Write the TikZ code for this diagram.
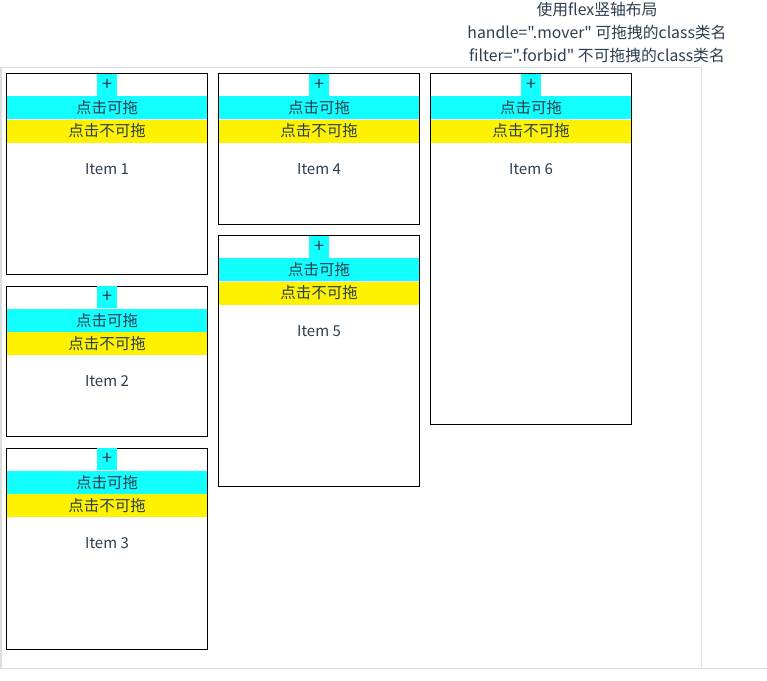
\documentclass[tikz,border=0pt]{standalone}
\usepackage{fontspec}
\setmainfont{Noto Sans CJK SC}[Ligatures=TeXOff]
\usepackage{tikz}
\definecolor{white}{rgb}{1.0, 1.0, 1.0}
\definecolor{black}{rgb}{0.0, 0.0, 0.0}
\definecolor{ink}{RGB}{44,62,80}
\definecolor{lgray}{RGB}{221,221,221}
\definecolor{aqua}{RGB}{17,255,255}
\definecolor{lemon}{RGB}{255,242,0}
\pgfdeclarelayer{cardlayer}
\pgfdeclarelayer{bandlayer}
\pgfsetlayers{cardlayer,bandlayer,main}
\tikzstyle{card}=[rectangle,draw=black,line width=1pt,fill=white,minimum width=201pt,inner sep=0pt,anchor=north west]
\tikzstyle{grab}=[rectangle,fill=aqua,minimum width=20pt,minimum height=22pt,inner sep=0pt,anchor=north,text=ink,font=\fontsize{18}{20}\selectfont]
\tikzstyle{drag}=[rectangle,fill=aqua,minimum width=200pt,minimum height=23pt,inner sep=0pt,anchor=north,text=ink,font=\fontsize{15.5}{18}\selectfont]
\tikzstyle{lock}=[rectangle,fill=lemon,minimum width=200pt,minimum height=23pt,inner sep=0pt,anchor=north,text=ink,font=\fontsize{15.5}{18}\selectfont]
\tikzstyle{item}=[text=ink,font=\fontsize{15}{18}\selectfont]

\begin{document}
\begin{tikzpicture}[x=1pt,y=-1pt]
        \useasboundingbox (0,0) rectangle (767,680);
        \begin{pgfonlayer}{cardlayer}
            \draw [lgray, line width=1.2pt] (1,67.5) rectangle (701.5,668.5);
            \draw [lgray, line width=1pt] (701.5,668.8) -- (767,668.8);

            \node [style = card, minimum height=201pt] (card1) at (6,73) {};
            \node [style = card, minimum height=150pt] (card2) at (6,285.5) {};
            \node [style = card, minimum height=201pt] (card3) at (6,447.5) {};
            \node [style = card, minimum height=151pt] (card4) at (218,73) {};
            \node [style = card, minimum height=251pt] (card5) at (218,235) {};
            \node [style = card, minimum height=351pt] (card6) at (430,73) {};
        \end{pgfonlayer}

        \begin{pgfonlayer}{bandlayer}
            \node [style = grab] (grab1) at ([yshift=-0.5pt]card1.north) {+};
            \node [style = drag] (drag1) at (grab1.south) {点击可拖};
            \node [style = lock] (lock1) at (drag1.south) {点击不可拖};
            \node [style = item] (item1) at ([yshift=-26pt]lock1.south) {Item 1};

            \node [style = grab] (grab2) at ([yshift=-0.5pt]card2.north) {+};
            \node [style = drag] (drag2) at (grab2.south) {点击可拖};
            \node [style = lock] (lock2) at (drag2.south) {点击不可拖};
            \node [style = item] (item2) at ([yshift=-26pt]lock2.south) {Item 2};

            \node [style = grab] (grab3) at ([yshift=-0.5pt]card3.north) {+};
            \node [style = drag] (drag3) at (grab3.south) {点击可拖};
            \node [style = lock] (lock3) at (drag3.south) {点击不可拖};
            \node [style = item] (item3) at ([yshift=-26pt]lock3.south) {Item 3};

            \node [style = grab] (grab4) at ([yshift=-0.5pt]card4.north) {+};
            \node [style = drag] (drag4) at (grab4.south) {点击可拖};
            \node [style = lock] (lock4) at (drag4.south) {点击不可拖};
            \node [style = item] (item4) at ([yshift=-26pt]lock4.south) {Item 4};

            \node [style = grab] (grab5) at ([yshift=-0.5pt]card5.north) {+};
            \node [style = drag] (drag5) at (grab5.south) {点击可拖};
            \node [style = lock] (lock5) at (drag5.south) {点击不可拖};
            \node [style = item] (item5) at ([yshift=-26pt]lock5.south) {Item 5};

            \node [style = grab] (grab6) at ([yshift=-0.5pt]card6.north) {+};
            \node [style = drag] (drag6) at (grab6.south) {点击可拖};
            \node [style = lock] (lock6) at (drag6.south) {点击不可拖};
            \node [style = item] (item6) at ([yshift=-26pt]lock6.south) {Item 6};
        \end{pgfonlayer}

        \node [text=ink, align=center, font=\fontsize{15.8}{23}\selectfont] (title) at (597,32)
            {使用flex竖轴布局\\handle=".mover" 可拖拽的class类名\\filter=".forbid" 不可拖拽的class类名};
    \end{tikzpicture}
\end{document}
